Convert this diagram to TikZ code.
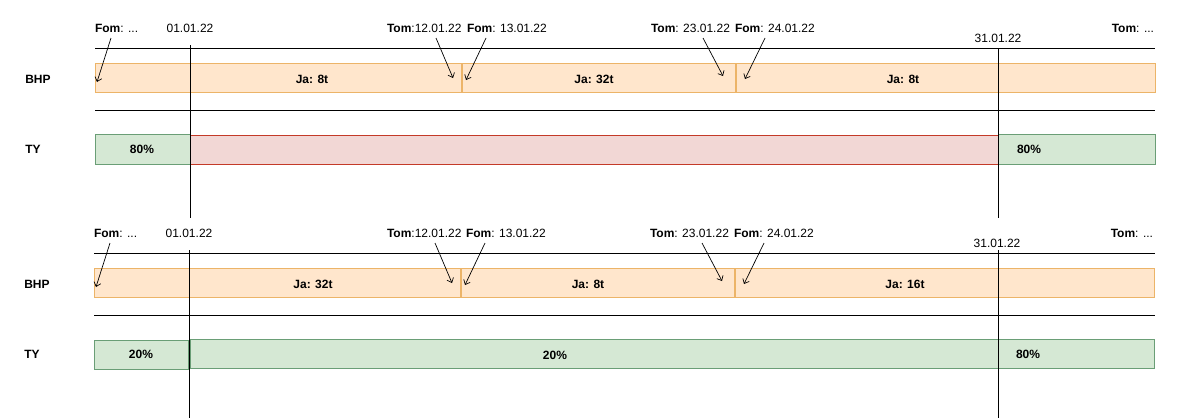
\documentclass[tikz,border=0pt]{standalone}
\usepackage{fontspec}
\setmainfont{Liberation Sans}
\usetikzlibrary{arrows.meta, positioning}

\definecolor{bhpFill}{HTML}{FFE6CC}
\definecolor{bhpDraw}{RGB}{236,180,104}
\definecolor{okFill}{HTML}{D5E8D4}
\definecolor{okDraw}{RGB}{106,158,118}
\definecolor{badFill}{RGB}{242,215,213}
\definecolor{badDraw}{RGB}{196,58,40}

\begin{document}
\begin{tikzpicture}[x=1pt,y=-1pt,font=\fontsize{12}{14}\selectfont,
  txt/.style={inner sep=0pt, outer sep=0pt},
  bhpbar/.style={draw=bhpDraw, fill=bhpFill, line width=1pt},
  okbar/.style={draw=okDraw, fill=okFill, line width=1pt},
  badbar/.style={draw=badDraw, fill=badFill, line width=1pt},
  rule/.style={draw=black, line width=1pt},
  pointer/.style={draw=black, line width=0.7pt, -{Straight Barb[length=4pt,width=7pt]}}]
\path[use as bounding box, fill=white] (0,0) rectangle (1185,418);

%% upper timeline
\node[txt, anchor=west] (fomA) at (95,28) {\textbf{Fom}: ...};
\node[txt] (startA) at (190,28) {01.01.22};
\node[txt, anchor=west] (tomA1) at (387,28) {\textbf{Tom}:12.01.22};
\node[txt, anchor=west] (fomA1) at (467,28) {\textbf{Fom}: 13.01.22};
\node[txt, anchor=west] (tomA2) at (651,28) {\textbf{Tom}: 23.01.22};
\node[txt, anchor=west] (fomA2) at (735,28) {\textbf{Fom}: 24.01.22};
\node[txt] (endA) at (998,38) {31.01.22};
\node[txt, anchor=east] (tomA) at (1154,28) {\textbf{Tom}: ...};

\path[rule] (95,48) -- (1155,48);
\path[rule] (95,110) -- (1155,110);

\path[bhpbar] (95,63) rectangle (461,92);
\path[bhpbar] (462.5,63) rectangle (735,92);
\path[bhpbar] (736.5,63) rectangle (1155,92);
\node[txt] (jaA1) at (312,79) {\textbf{Ja: 8t}};
\node[txt] (jaA2) at (594,79) {\textbf{Ja: 32t}};
\node[txt] (jaA3) at (903,79) {\textbf{Ja: 8t}};

\path[okbar] (95,134) rectangle (190,164);
\path[badbar] (190,135) rectangle (998,164);
\path[okbar] (998,134) rectangle (1155,164);
\node[txt] (tyA1) at (142,149) {\textbf{80\%}};
\node[txt] (tyA2) at (1029,149) {\textbf{80\%}};

\node[txt] (bhpA) at (38,79) {\textbf{BHP}};
\node[txt] (tyA) at (33,149) {\textbf{TY}};

\coordinate (cutA1t) at (190,45);
\coordinate (cutA1b) at (190,218);
\coordinate (cutA2t) at (998,48);
\coordinate (cutA2b) at (998,218);
\path[rule] (cutA1t) -- (cutA1b);
\path[rule] (cutA2t) -- (cutA2b);

\coordinate (pA0s) at (111,38);  \coordinate (pA0e) at (97,82);
\coordinate (pA1s) at (436,38);  \coordinate (pA1e) at (453,78);
\coordinate (pA2s) at (486,38);  \coordinate (pA2e) at (466,80);
\coordinate (pA3s) at (703,38);  \coordinate (pA3e) at (723,76);
\coordinate (pA4s) at (765,38);  \coordinate (pA4e) at (745,79);
\path[pointer] (pA0s) -- (pA0e);
\path[pointer] (pA1s) -- (pA1e);
\path[pointer] (pA2s) -- (pA2e);
\path[pointer] (pA3s) -- (pA3e);
\path[pointer] (pA4s) -- (pA4e);

%% lower timeline
\node[txt, anchor=west] (fomB) at (94,233) {\textbf{Fom}: ...};
\node[txt] (startB) at (189,233) {01.01.22};
\node[txt, anchor=west] (tomB1) at (387,233) {\textbf{Tom}:12.01.22};
\node[txt, anchor=west] (fomB1) at (466,233) {\textbf{Fom}: 13.01.22};
\node[txt, anchor=west] (tomB2) at (650,233) {\textbf{Tom}: 23.01.22};
\node[txt, anchor=west] (fomB2) at (734,233) {\textbf{Fom}: 24.01.22};
\node[txt] (endB) at (997,243) {31.01.22};
\node[txt, anchor=east] (tomB) at (1153,233) {\textbf{Tom}: ...};

\path[rule] (94,253) -- (1155,253);
\path[rule] (94,315.5) -- (1155,315.5);

\path[bhpbar] (94,268) rectangle (460,297);
\path[bhpbar] (461.5,268) rectangle (734,297);
\path[bhpbar] (735.5,268) rectangle (1154,297);
\node[txt] (jaB1) at (313,284) {\textbf{Ja: 32t}};
\node[txt] (jaB2) at (588,284) {\textbf{Ja: 8t}};
\node[txt] (jaB3) at (905,284) {\textbf{Ja: 16t}};

\path[okbar] (94,340) rectangle (188,369);
\path[okbar] (190,339) rectangle (1154,368);
\node[txt] (tyB1) at (141,354) {\textbf{20\%}};
\node[txt] (tyB2) at (555,355) {\textbf{20\%}};
\node[txt] (tyB3) at (1028,354) {\textbf{80\%}};

\node[txt] (bhpB) at (37,284) {\textbf{BHP}};
\node[txt] (tyB) at (32,354) {\textbf{TY}};

\coordinate (cutB1t) at (189,250);
\coordinate (cutB1b) at (189,418);
\coordinate (cutB2t) at (998,250);
\coordinate (cutB2b) at (998,418);
\path[rule] (cutB1t) -- (cutB1b);
\path[rule] (cutB2t) -- (cutB2b);

\coordinate (pB0s) at (110,243);  \coordinate (pB0e) at (96,287);
\coordinate (pB1s) at (435,243);  \coordinate (pB1e) at (452,283);
\coordinate (pB2s) at (485,243);  \coordinate (pB2e) at (465,285);
\coordinate (pB3s) at (702,243);  \coordinate (pB3e) at (722,281);
\coordinate (pB4s) at (764,243);  \coordinate (pB4e) at (744,284);
\path[pointer] (pB0s) -- (pB0e);
\path[pointer] (pB1s) -- (pB1e);
\path[pointer] (pB2s) -- (pB2e);
\path[pointer] (pB3s) -- (pB3e);
\path[pointer] (pB4s) -- (pB4e);
\end{tikzpicture}
\end{document}
